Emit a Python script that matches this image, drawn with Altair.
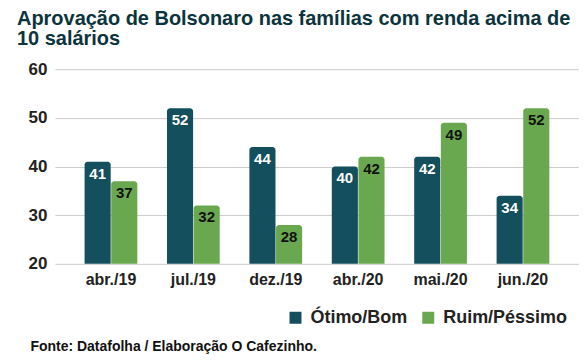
import altair as alt
import pandas as pd

meses = ["abr./19", "jul./19", "dez./19", "abr./20", "mai./20", "jun./20"]
otimo_bom = [41, 52, 44, 40, 42, 34]
ruim_pessimo = [37, 32, 28, 42, 49, 52]
series = ["Ótimo/Bom", "Ruim/Péssimo"]
cores = ["#134f5c", "#6aa84f"]
cores_texto = ["#ffffff", "#111111"]
y_ticks = [20, 30, 40, 50, 60]
y_base = 20

rows = []
for i, m in enumerate(meses):
    rows.append({"mes": m, "serie": series[0], "valor": otimo_bom[i]})
    rows.append({"mes": m, "serie": series[1], "valor": ruim_pessimo[i]})
df = pd.DataFrame(rows)

FONT = "Liberation Sans"

x_enc = alt.X(
    "mes:N",
    sort=meses,
    scale=alt.Scale(paddingInner=0.36, paddingOuter=0.36),
    title="Fonte: Datafolha / Elaboração O Cafezinho.",
    axis=alt.Axis(
        labelAngle=0,
        labelFont=FONT,
        labelFontSize=16,
        labelFontWeight="bold",
        labelColor="#222222",
        labelPadding=8,
        ticks=False,
        domain=False,
        titleFont=FONT,
        titleFontSize=14,
        titleFontWeight="bold",
        titleColor="#111111",
        titleAnchor="start",
        titleAlign="left",
        titleX=-25,
        titleY=87,
        titleBaseline="alphabetic",
    ),
)
xoff = alt.XOffset("serie:N", sort=series, scale=alt.Scale(paddingInner=0.02))
y_enc = alt.Y(
    "valor:Q",
    scale=alt.Scale(domain=[20, 60], zero=False),
    title=None,
    axis=alt.Axis(
        values=y_ticks,
        labelFont=FONT,
        labelFontSize=17,
        labelFontWeight="bold",
        labelColor="#222222",
        labelPadding=8,
        ticks=False,
        domain=False,
        gridColor="#cccccc",
        gridWidth=1,
    ),
)

bars = alt.Chart(df).mark_bar(
    cornerRadiusTopLeft=3, cornerRadiusTopRight=3
).encode(
    x=x_enc,
    xOffset=xoff,
    y=y_enc,
    y2=alt.datum(y_base),
    color=alt.Color(
        "serie:N",
        sort=series,
        scale=alt.Scale(domain=series, range=cores),
        legend=alt.Legend(
            title=None,
            orient="none",
            direction="horizontal",
            legendX=232,
            legendY=240,
            symbolType="square",
            symbolSize=144,
            symbolStrokeWidth=0,
            symbolOpacity=1,
            labelFont=FONT,
            labelFontSize=18,
            labelFontWeight="bold",
            labelColor="#222222",
            columnPadding=12,
            labelOffset=6,
        ),
    ),
)

labels = alt.Chart(df).mark_text(
    baseline="top", dy=5, font=FONT, fontSize=15, fontWeight="bold"
).encode(
    x=alt.X("mes:N", sort=meses),
    xOffset=alt.XOffset("serie:N", sort=series),
    y=alt.Y("valor:Q"),
    text=alt.Text("valor:Q"),
    color=alt.Color("serie:N", scale=alt.Scale(domain=series, range=cores_texto), legend=None),
)

chart = (
    alt.layer(bars, labels)
    .resolve_scale(color="independent")
    .properties(
        width=525,
        height=195,
        autosize=alt.AutoSizeParams(type="none"),
        padding={"left": 47, "top": 61, "right": 0, "bottom": 92},
        title=alt.TitleParams(
            text=["Aprovação de Bolsonaro nas famílias com renda acima de", "10 salários"],
            anchor="start",
            frame="group",
            dx=-38,
            font=FONT,
            fontSize=20,
            fontWeight="bold",
            color="#0c343d",
            lineHeight=20,
            offset=11,
        ),
    )
    .configure_view(stroke=None)
)

chart.save("out.html", embed_options={"renderer": "svg", "actions": False})
